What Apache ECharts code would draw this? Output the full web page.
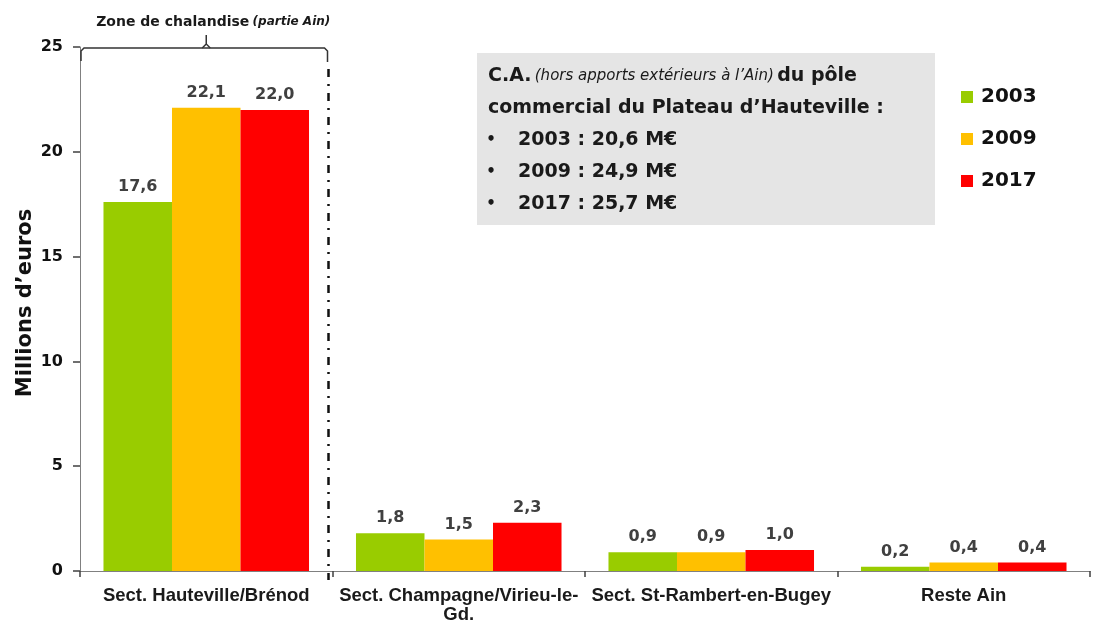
<!DOCTYPE html>
<html>
<head>
<meta charset="utf-8">
<script src="https://cdn.jsdelivr.net/npm/echarts@6/dist/echarts.min.js"></script>
<style>
html,body{margin:0;padding:0;background:#fff;}
#c{width:1094px;height:623px;}
</style>
</head>
<body>
<div id="c"></div>
<script>
const categories = ['Sect. Hauteville/Brénod', 'Sect. Champagne/Virieu-le-\nGd.', 'Sect. St-Rambert-en-Bugey', 'Reste Ain'];
const years = ['2003', '2009', '2017'];
const values2003 = [17.6, 1.8, 0.9, 0.2];
const values2009 = [22.1, 1.5, 0.9, 0.4];
const values2017 = [22.0, 2.3, 1.0, 0.4];
const colors = ['#99cc00', '#ffc000', '#ff0000'];
const yTicks = [0, 5, 10, 15, 20, 25];
const boxTitle1 = 'C.A.';
const boxTitleItalic = '(hors apports extérieurs à l\u2019Ain)';
const boxTitle2 = 'du pôle';
const boxTitle3 = 'commercial du Plateau d\u2019Hauteville :';
const boxItems = ['2003 : 20,6 M€', '2009 : 24,9 M€', '2017 : 25,7 M€'];
const zoneLabel = 'Zone de chalandise';
const zoneItalic = '(partie Ain)';

const BOLD = 'DejaVu Sans';
const chart = echarts.init(document.getElementById('c'), null, {renderer: 'canvas'});

const seriesData = [values2003, values2009, values2017];
const fmt = v => v.toFixed(1).replace('.', ',');

const option = {
  animation: false,
  backgroundColor: '#ffffff',
  grid: {left: 80, right: 4, top: 47, bottom: 52, containLabel: false, outerBoundsMode: 'none'},
  legend: {
    data: years,
    orient: 'vertical',
    left: 956,
    top: 82,
    itemWidth: 12,
    itemHeight: 12,
    itemGap: 22,
    icon: 'rect',
    textStyle: {fontFamily: BOLD, fontWeight: 'bold', fontSize: 20, color: '#111', padding: [0, 0, 0, 3]}
  },
  xAxis: {
    type: 'category',
    data: categories,
    axisLine: {lineStyle: {color: '#808080', width: 1}},
    axisTick: {show: true, length: 6, lineStyle: {color: '#404040', width: 1.5}},
    axisLabel: {interval: 0, margin: 15, fontFamily: 'Liberation Sans', fontWeight: 'bold', fontSize: 18.5, color: '#1a1a1a', lineHeight: 19}
  },
  yAxis: {
    type: 'value',
    min: yTicks[0],
    max: yTicks[yTicks.length - 1],
    interval: yTicks[1] - yTicks[0],
    name: 'Millions d\u2019euros',
    nameLocation: 'middle',
    nameGap: 44,
    nameMoveOverlap: false,
    nameTextStyle: {fontFamily: BOLD, fontWeight: 'bold', fontSize: 21, color: '#111', padding: [0, 0, 0, 12]},
    axisLine: {show: true, lineStyle: {color: '#808080', width: 1}},
    axisTick: {show: true, length: 7, lineStyle: {color: '#404040', width: 1.5}},
    splitLine: {show: false},
    axisLabel: {margin: 17, fontFamily: BOLD, fontWeight: 'bold', fontSize: 16, color: '#111'}
  },
  series: years.map((y, i) => ({
    name: y,
    type: 'bar',
    data: seriesData[i],
    barGap: '0%',
    barCategoryGap: '18.6%',
    itemStyle: {color: colors[i]},
    label: {
      show: true,
      position: 'top',
      distance: 7,
      formatter: p => fmt(p.value),
      fontFamily: BOLD,
      fontWeight: 'bold',
      fontSize: 16,
      color: '#404040'
    }
  }))
};
chart.setOption(option);

// annotations positioned from the axes
const c0 = chart.convertToPixel({xAxisIndex: 0}, 0);
const c1 = chart.convertToPixel({xAxisIndex: 0}, 1);
const band = c1 - c0;
const leftEdge = c0 - band / 2;
const boundary = c0 + band / 2;
const yTopPx = chart.convertToPixel({yAxisIndex: 0}, yTicks[yTicks.length - 1]);
const yZeroPx = chart.convertToPixel({yAxisIndex: 0}, 0);
const mid = (leftEdge + boundary) / 2;

const textFill = '#1a1a1a';
const lineY = [76, 108, 140, 172, 204];
const boxLeft = 477, boxTop = 53, boxW = 458, boxH = 172;
const bStyle = {stroke: '#333', lineWidth: 1.5, fill: null};

const graphics = [
  // dash-dot separator
  {type: 'line', z: 10, shape: {x1: boundary - 4, y1: yTopPx + 22, x2: boundary - 4, y2: yZeroPx + 9},
   style: {stroke: '#111', lineWidth: 2.5, lineDash: [8, 7, 2, 7]}},
  // bracket
  {type: 'polyline', z: 10, shape: {points: [
    [leftEdge + 1, yTopPx + 14], [leftEdge + 1, yTopPx + 4], [leftEdge + 4, yTopPx + 1],
    [boundary - 8, yTopPx + 1], [boundary - 5, yTopPx + 4], [boundary - 5, yTopPx + 15]
  ]}, style: bStyle},
  {type: 'polyline', z: 10, shape: {points: [
    [mid - 4, yTopPx + 1], [mid, yTopPx - 3], [mid, yTopPx - 12]
  ]}, style: bStyle},
  {type: 'polyline', z: 10, shape: {points: [
    [mid + 4, yTopPx + 1], [mid, yTopPx - 3]
  ]}, style: bStyle},
  {type: 'text', z: 10, x: mid + 7, y: 22, style: {
    text: '{b|' + zoneLabel + '} {i|' + zoneItalic + '}',
    align: 'center', verticalAlign: 'middle',
    rich: {
      b: {fontFamily: BOLD, fontWeight: 'bold', fontSize: 14, fill: textFill},
      i: {fontFamily: BOLD, fontWeight: 'bold', fontStyle: 'italic', fontSize: 12, fill: textFill}
    }
  }},
  // info box
  {type: 'rect', z: 5, shape: {x: boxLeft, y: boxTop, width: boxW, height: boxH}, style: {fill: '#e5e5e5'}},
  {type: 'text', z: 10, x: 488, y: lineY[0], style: {
    text: '{b|' + boxTitle1 + '} {i|' + boxTitleItalic + '} {b|' + boxTitle2 + '}',
    verticalAlign: 'middle',
    rich: {
      b: {fontFamily: BOLD, fontWeight: 'bold', fontSize: 19, fill: textFill},
      i: {fontFamily: BOLD, fontStyle: 'italic', fontSize: 15, fill: textFill}
    }
  }},
  {type: 'text', z: 10, x: 488, y: lineY[1], style: {
    text: boxTitle3, verticalAlign: 'middle',
    fontFamily: BOLD, fontWeight: 'bold', fontSize: 19, fill: textFill
  }}
];
boxItems.forEach((t, i) => {
  graphics.push({type: 'text', z: 10, x: 491, y: lineY[2 + i], style: {
    text: '•', align: 'center', verticalAlign: 'middle', fontFamily: BOLD, fontWeight: 'bold', fontSize: 15, fill: textFill}});
  graphics.push({type: 'text', z: 10, x: 518, y: lineY[2 + i], style: {
    text: t, verticalAlign: 'middle', fontFamily: BOLD, fontWeight: 'bold', fontSize: 19, fill: textFill}});
});
chart.setOption({graphic: graphics});
</script>
</body>
</html>
